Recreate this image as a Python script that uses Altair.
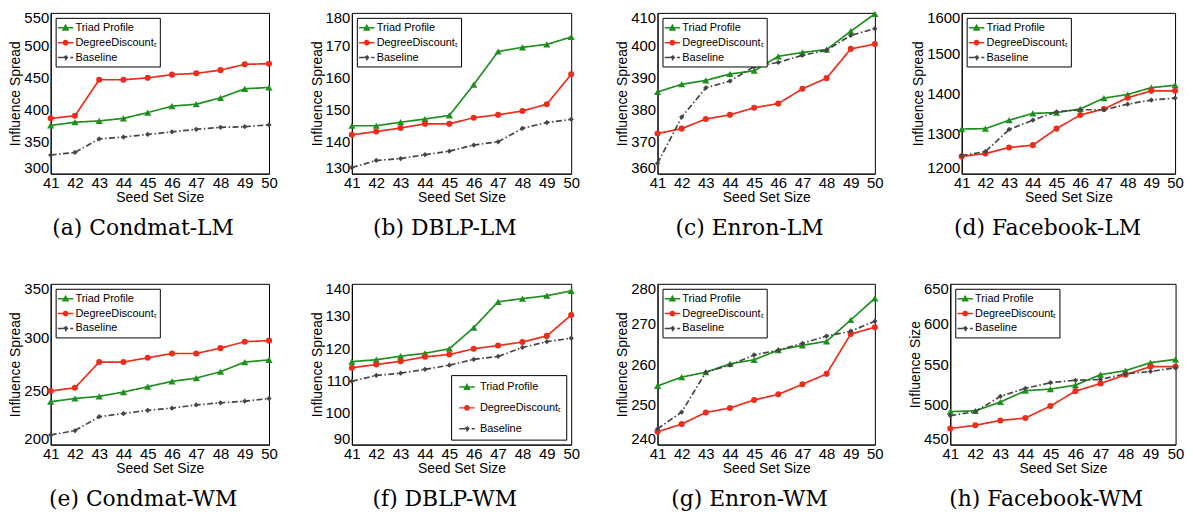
import altair as alt
import pandas as pd

# ---------------- data ----------------
seed_sizes = [41, 42, 43, 44, 45, 46, 47, 48, 49, 50]
series_names = ["Triad Profile", "DegreeDiscountₜ", "Baseline"]
series_colors = ["#1f8f1f", "#ec2d1c", "#454545"]

# (a) Condmat-LM
a_triad = [375, 380, 382, 386, 395, 405, 408, 418, 432, 434]
a_degree = [386, 390, 446, 446, 449, 454, 456, 461, 470, 471]
a_base = [329, 333, 354, 357, 361, 365, 369, 372, 373, 376]
# (b) DBLP-LM
b_triad = [144.9, 144.9, 146.0, 147.0, 148.1, 157.7, 168.0, 169.3, 170.2, 172.5]
b_degree = [142.1, 143.1, 144.2, 145.5, 145.5, 147.4, 148.3, 149.5, 151.6, 160.9]
b_base = [131.9, 134.1, 134.7, 135.9, 137.0, 138.9, 139.9, 144.1, 145.9, 146.9]
# (c) Enron-LM
c_triad = [385.4, 387.8, 389.0, 391.0, 392.0, 396.5, 397.7, 398.6, 404.3, 409.7]
c_degree = [372.5, 374.0, 377.0, 378.3, 380.5, 381.8, 386.4, 389.7, 398.8, 400.3]
c_base = [363.2, 377.6, 386.7, 388.8, 393.3, 394.6, 396.8, 398.4, 403.0, 405.1]
# (d) Facebook-LM
d_triad = [1311, 1312, 1333, 1350, 1352, 1361, 1388, 1397, 1414, 1420]
d_degree = [1243, 1250, 1265, 1271, 1312, 1346, 1361, 1389, 1406, 1406]
d_base = [1245, 1255, 1310, 1333, 1354, 1359, 1359, 1373, 1383, 1388]
# (e) Condmat-WM
e_triad = [240, 243, 245, 249, 254, 259, 262, 268, 277, 279]
e_degree = [250, 253, 277, 277, 281, 285, 285, 290, 296, 297]
e_base = [209, 213, 226, 229, 232, 234, 237, 239, 240.5, 243]
# (f) DBLP-WM
f_triad = [115.8, 116.4, 117.5, 118.4, 119.8, 126.4, 134.4, 135.4, 136.3, 137.8]
f_degree = [113.9, 114.9, 115.9, 117.3, 118.0, 119.8, 120.8, 121.9, 123.8, 130.3]
f_base = [109.7, 111.5, 112.2, 113.4, 114.7, 116.5, 117.4, 120.2, 122.0, 123.1]
# (g) Enron-WM
g_triad = [254.6, 256.8, 258.0, 260.1, 261.1, 263.5, 264.7, 265.7, 271.0, 276.4]
g_degree = [243.2, 245.1, 248.0, 249.1, 251.1, 252.5, 255.0, 257.6, 267.5, 269.2]
g_base = [243.9, 248.1, 258.0, 259.8, 262.3, 263.5, 265.2, 267.0, 268.2, 270.7]
# (h) Facebook-WM
h_triad = [491, 492, 503, 517, 519, 524, 537, 542, 552, 556]
h_degree = [470, 474, 480, 483, 498, 516.5, 526, 537, 547, 547]
h_base = [486, 491, 510, 520, 527, 530, 531, 538, 541, 545.5]

FONT = "Liberation Sans"

marker_shapes = ["triangle-up", "circle", "diamond"]
marker_sizes = [52, 38, 28]
# legend glyphs: a short line with the series marker in the middle
legend_glyphs = [
    "M-1.3,0H1.3M-0.42,0.36L0,-0.42L0.42,0.36Z",
    "M-1.3,0H1.3M0.36,0A0.36,0.36,0,1,1,-0.36,0A0.36,0.36,0,1,1,0.36,0Z",
    "M-1.3,0H1.3M0,-0.36L0.3,0L0,0.36L-0.3,0Z",
]


def panel(triad, degree, base, title, ytitle, ydomain, ystep, width, bottom_legend=False):
    df = pd.DataFrame({
        "x": seed_sizes * 3,
        "y": triad + degree + base,
        "series": [series_names[0]] * 10 + [series_names[1]] * 10 + [series_names[2]] * 10,
    })
    yticks = list(range(ydomain[0], ydomain[1] + 1, ystep))
    xenc = alt.X("x:Q", scale=alt.Scale(domain=[41, 50], nice=False, zero=False),
                 axis=alt.Axis(values=seed_sizes, title="Seed Set Size", format="d"))
    yenc = alt.Y("y:Q", scale=alt.Scale(domain=ydomain, nice=False, zero=False),
                 axis=alt.Axis(values=yticks, title=ytitle, format="d",
                               labelFlush=True, labelFlushOffset=2))

    def mk_legend():
        return alt.Legend(
            title=None,
            orient="bottom-right" if bottom_legend else "top-left",
            offset=5,
            strokeColor="black",
            fillColor="white",
            padding=5 if bottom_legend else 3,
            rowPadding=8 if bottom_legend else 2,
            labelFont=FONT,
            labelFontSize=11,
            labelColor="black",
            labelOffset=6 if bottom_legend else 3,
            symbolOffset=4 if bottom_legend else 0,
            symbolSize=144,
            symbolStrokeWidth=1.5,
            symbolOpacity=1,
            cornerRadius=0,
        )

    cscale = alt.Scale(domain=series_names, range=series_colors)
    # legend carrier first, so its legend settings win when the layers merge
    layers = [
        alt.Chart(df).transform_filter("datum.x < 0").mark_point(
            filled=True, opacity=1, strokeWidth=1.5
        ).encode(
            x=xenc, y=yenc,
            color=alt.Color("series:N", scale=cscale, legend=mk_legend()),
            stroke=alt.Stroke("series:N", scale=cscale, legend=mk_legend()),
            shape=alt.Shape("series:N", scale=alt.Scale(domain=series_names, range=legend_glyphs),
                            legend=mk_legend()),
        ),
        alt.Chart(df).mark_line(strokeWidth=1.7).encode(
            x=xenc, y=yenc,
            color=alt.Color("series:N", scale=cscale, legend=None),
            strokeDash=alt.StrokeDash("series:N", scale=alt.Scale(domain=series_names,
                                      range=[[1, 0], [1, 0], [6, 2.5, 1.5, 2.5]]), legend=None),
        ),
    ]
    for name, shp, sz in zip(series_names, marker_shapes, marker_sizes):
        layers.append(
            alt.Chart(df).transform_filter(alt.datum.series == name).mark_point(
                filled=True, opacity=1, shape=shp, size=sz
            ).encode(
                x=xenc, y=yenc,
                color=alt.Color("series:N", scale=cscale, legend=None),
            )
        )
    return alt.layer(*layers).properties(
        width=width, height=162,
        title=alt.TitleParams(title, orient="bottom", anchor="middle", frame="bounds",
                              font="DejaVu Serif", fontSize=22, fontWeight="normal",
                              color="black", offset=14),
    )


def independent(c):
    return c.resolve_scale(
        color="independent", shape="independent", stroke="independent", strokeDash="independent"
    ).resolve_legend(color="independent", shape="independent", stroke="independent")


pa = panel(a_triad, a_degree, a_base, "(a) Condmat-LM", "Influence Spread", [300, 550], 50, 220)
pb = panel(b_triad, b_degree, b_base, "(b) DBLP-LM", "Influence Spread", [130, 180], 10, 221)
pc = panel(c_triad, c_degree, c_base, "(c) Enron-LM", "Influence Spread", [360, 410], 10, 219)
pd_ = panel(d_triad, d_degree, d_base, "(d) Facebook-LM", "Influence Spread", [1200, 1600], 100, 215)
pe = panel(e_triad, e_degree, e_base, "(e) Condmat-WM", "Influence Spread", [200, 350], 50, 220)
pf = panel(f_triad, f_degree, f_base, "(f) DBLP-WM", "Influence Spread", [90, 140], 10, 221, bottom_legend=True)
pg = panel(g_triad, g_degree, g_base, "(g) Enron-WM", "Influence Spread", [240, 280], 10, 219)
ph = panel(h_triad, h_degree, h_base, "(h) Facebook-WM", "Influence Size", [450, 650], 50, 227)


def row(p1, p2, p3, p4, s4):
    r = independent(alt.hconcat(p1, p2, spacing=31.5))
    r = independent(alt.hconcat(r, p3, spacing=34.5))
    r = independent(alt.hconcat(r, p4, spacing=s4))
    return r


row1 = row(pa, pb, pc, pd_, 27)
row2 = row(pe, pf, pg, ph, 23.5)

chart = independent(alt.vconcat(row1, row2, spacing=41)).properties(
    padding={"left": 0, "top": 0, "right": 0, "bottom": 0}
).configure_view(
    stroke="black", strokeWidth=1
).configure_axis(
    grid=False, ticks=False, domainColor="black", domainWidth=1, labelOverlap=False,
    labelColor="black", labelFont=FONT, labelFontSize=15, labelPadding=2,
    titleColor="black", titleFont=FONT, titleFontSize=14, titleFontWeight="normal",
).configure_axisX(
    labelAngle=0, titlePadding=0, labelFlush=False
).configure_axisY(
    titlePadding=1
)

chart.save("out.html", embed_options={"renderer": "svg", "actions": False})
